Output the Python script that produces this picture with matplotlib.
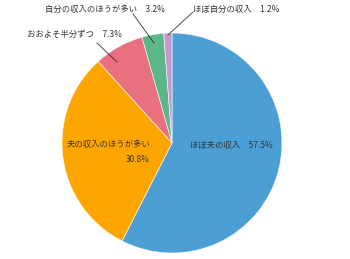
import matplotlib
matplotlib.use("Agg")
import matplotlib.pyplot as plt

plt.rcParams['font.family'] = ['Noto Sans CJK JP', 'DejaVu Sans']

labels = ['ほぼ夫の収入', '夫の収入のほうが多い', 'おおよそ半分ずつ', '自分の収入のほうが多い', 'ほぼ自分の収入']
values = [57.5, 30.8, 7.3, 3.2, 1.2]
colors = ['#4B9FD5', '#FFA500', '#E8707F', '#5CB68A', '#C497CF']

fig = plt.figure(figsize=(3.5, 2.59), dpi=100)
# pie centre at pixel (172, 143), radius 110
R, CX, CY = 110, 172, 143
ax = fig.add_axes([(CX - R) / 350, (259 - CY - R) / 259, 2 * R / 350, 2 * R / 259])
ax.pie(values, colors=colors, startangle=90, counterclock=False, radius=1,
       wedgeprops=dict(edgecolor='white', linewidth=0.4))
ax.set_xlim(-1, 1)
ax.set_ylim(-1, 1)
ax.set_aspect('auto')
ax.axis('off')


def d(px, py):
    return ((px - CX) / R, (CY - py) / R)


fs = 6
tc = '#333333'
ax.text(*d(190, 145), f'{labels[0]}　{values[0]}%', fontsize=fs, color=tc, ha='left', va='center')
ax.text(*d(150, 144), labels[1], fontsize=fs, color=tc, ha='right', va='center')
ax.text(*d(150, 159), f'{values[1]}%', fontsize=fs, color=tc, ha='right', va='center')

small = [(2, (27, 34), (97, 43), (117, 62)),
         (3, (45, 9), (133, 14), (154, 43)),
         (4, (193, 9), (193, 12), (168, 35))]
for i, tpos, lstart, lend in small:
    t = ax.text(*d(*tpos), f'{labels[i]}　{values[i]}%', fontsize=fs, color=tc,
                ha='left', va='center')
    t.set_clip_on(False)
    x0, y0 = d(*lstart)
    x1, y1 = d(*lend)
    ax.plot([x0, x1], [y0, y1], color='#333333', linewidth=0.6, clip_on=False)

fig.savefig('out.png', dpi=100)
